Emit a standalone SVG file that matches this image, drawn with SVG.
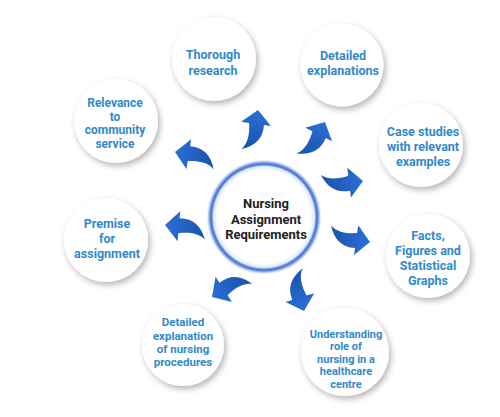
<svg xmlns="http://www.w3.org/2000/svg" xmlns:xlink="http://www.w3.org/1999/xlink" width="500" height="417" viewBox="0 0 500 417">
<style>
.node{fill:#ffffff;filter:url(#shadow)}
.lbl{font-family:Roboto,"Liberation Sans",sans-serif;font-weight:bold;font-size:12.5px;fill:#3189cc;text-anchor:middle}
.ctr{font-family:Roboto,"Liberation Sans",sans-serif;font-weight:bold;font-size:13px;fill:#222222;text-anchor:middle}
.arr{fill:url(#arrgrad)}
</style>
<defs>
<filter id="shadow" x="-30%" y="-30%" width="160%" height="160%">
<feDropShadow dx="2" dy="3" stdDeviation="3" flood-color="#000000" flood-opacity="0.3"/>
</filter>
<radialGradient id="ring" cx="0.5" cy="0.5" r="0.5">
<stop offset="0" stop-color="#ffffff"/>
<stop offset="0.8" stop-color="#ffffff"/>
<stop offset="0.87" stop-color="#e0e9f9"/>
<stop offset="0.91" stop-color="#3c6fce"/>
<stop offset="0.945" stop-color="#8fabe6"/>
<stop offset="1" stop-color="#ffffff" stop-opacity="0"/>
</radialGradient>
<linearGradient id="arrgrad" x1="0" y1="0" x2="0" y2="1">
<stop offset="0" stop-color="#2a70d6"/>
<stop offset="1" stop-color="#1a52aa"/>
</linearGradient>
<path id="arrow" class="arr" d="M0,0 L15,14 L8,14 C9,28 2,36 -11,41 C-5,34 -5,24 -7,14 L-15,14 Z"/>
</defs>
<rect width="500" height="417" fill="#ffffff"/>

<g id="connectors">
<use href="#arrow" transform="translate(258,110) rotate(8)"/>
<use href="#arrow" transform="translate(325,122) rotate(27)"/>
<use href="#arrow" transform="translate(363,181) rotate(83)"/>
<use href="#arrow" transform="translate(370,242) rotate(98)"/>
<use href="#arrow" transform="translate(304,311) rotate(163)"/>
<use href="#arrow" transform="translate(212,297) rotate(237)"/>
<use href="#arrow" transform="translate(165,225) rotate(-85)"/>
<use href="#arrow" transform="translate(175,152) rotate(-81)"/>
</g>

<g id="center">
<circle cx="264" cy="217" r="58" fill="url(#ring)"/>
<text class="ctr" x="266" y="208">Nursing</text>
<text class="ctr" x="266" y="223.5">Assignment</text>
<text class="ctr" x="266" y="238.5">Requirements</text>
</g>

<g id="thorough">
<circle class="node" cx="214" cy="59" r="42"/>
<text class="lbl" x="213" y="58.5">Thorough</text>
<text class="lbl" x="213" y="74.5">research</text>
</g>

<g id="explanations">
<circle class="node" cx="342" cy="65" r="41.5"/>
<text class="lbl" x="343" y="60">Detailed</text>
<text class="lbl" x="343" y="75">explanations</text>
</g>

<g id="relevance">
<circle class="node" cx="116" cy="121" r="42"/>
<text class="lbl" x="115" y="107" style="font-size:12px">Relevance</text>
<text class="lbl" x="115" y="120.5" style="font-size:12px">to</text>
<text class="lbl" x="115" y="134" style="font-size:12px">community</text>
<text class="lbl" x="115" y="147.5" style="font-size:12px">service</text>
</g>

<g id="case-studies">
<circle class="node" cx="421" cy="145" r="42"/>
<text class="lbl" x="423" y="136">Case studies</text>
<text class="lbl" x="423" y="151">with relevant</text>
<text class="lbl" x="423" y="166">examples</text>
</g>

<g id="premise">
<circle class="node" cx="106" cy="240" r="42"/>
<text class="lbl" x="107" y="228">Premise</text>
<text class="lbl" x="107" y="243">for</text>
<text class="lbl" x="107" y="258">assignment</text>
</g>

<g id="facts">
<circle class="node" cx="428" cy="256" r="42"/>
<text class="lbl" x="428" y="239.5">Facts,</text>
<text class="lbl" x="428" y="254.5">Figures and</text>
<text class="lbl" x="428" y="269.5">Statistical</text>
<text class="lbl" x="428" y="284.5">Graphs</text>
</g>

<g id="procedures">
<circle class="node" cx="183" cy="345" r="41"/>
<text class="lbl" x="183" y="326" style="font-size:11.5px">Detailed</text>
<text class="lbl" x="183" y="339.5" style="font-size:11.5px">explanation</text>
<text class="lbl" x="183" y="352.5" style="font-size:11.5px">of nursing</text>
<text class="lbl" x="183" y="366" style="font-size:11.5px">procedures</text>
</g>

<g id="understanding">
<circle class="node" cx="345" cy="352" r="44"/>
<text class="lbl" x="346" y="337.5" style="font-size:11px">Understanding</text>
<text class="lbl" x="346" y="350" style="font-size:11px">role of</text>
<text class="lbl" x="346" y="362.5" style="font-size:11px">nursing in a</text>
<text class="lbl" x="346" y="375" style="font-size:11px">healthcare</text>
<text class="lbl" x="346" y="387.5" style="font-size:11px">centre</text>
</g>
</svg>
